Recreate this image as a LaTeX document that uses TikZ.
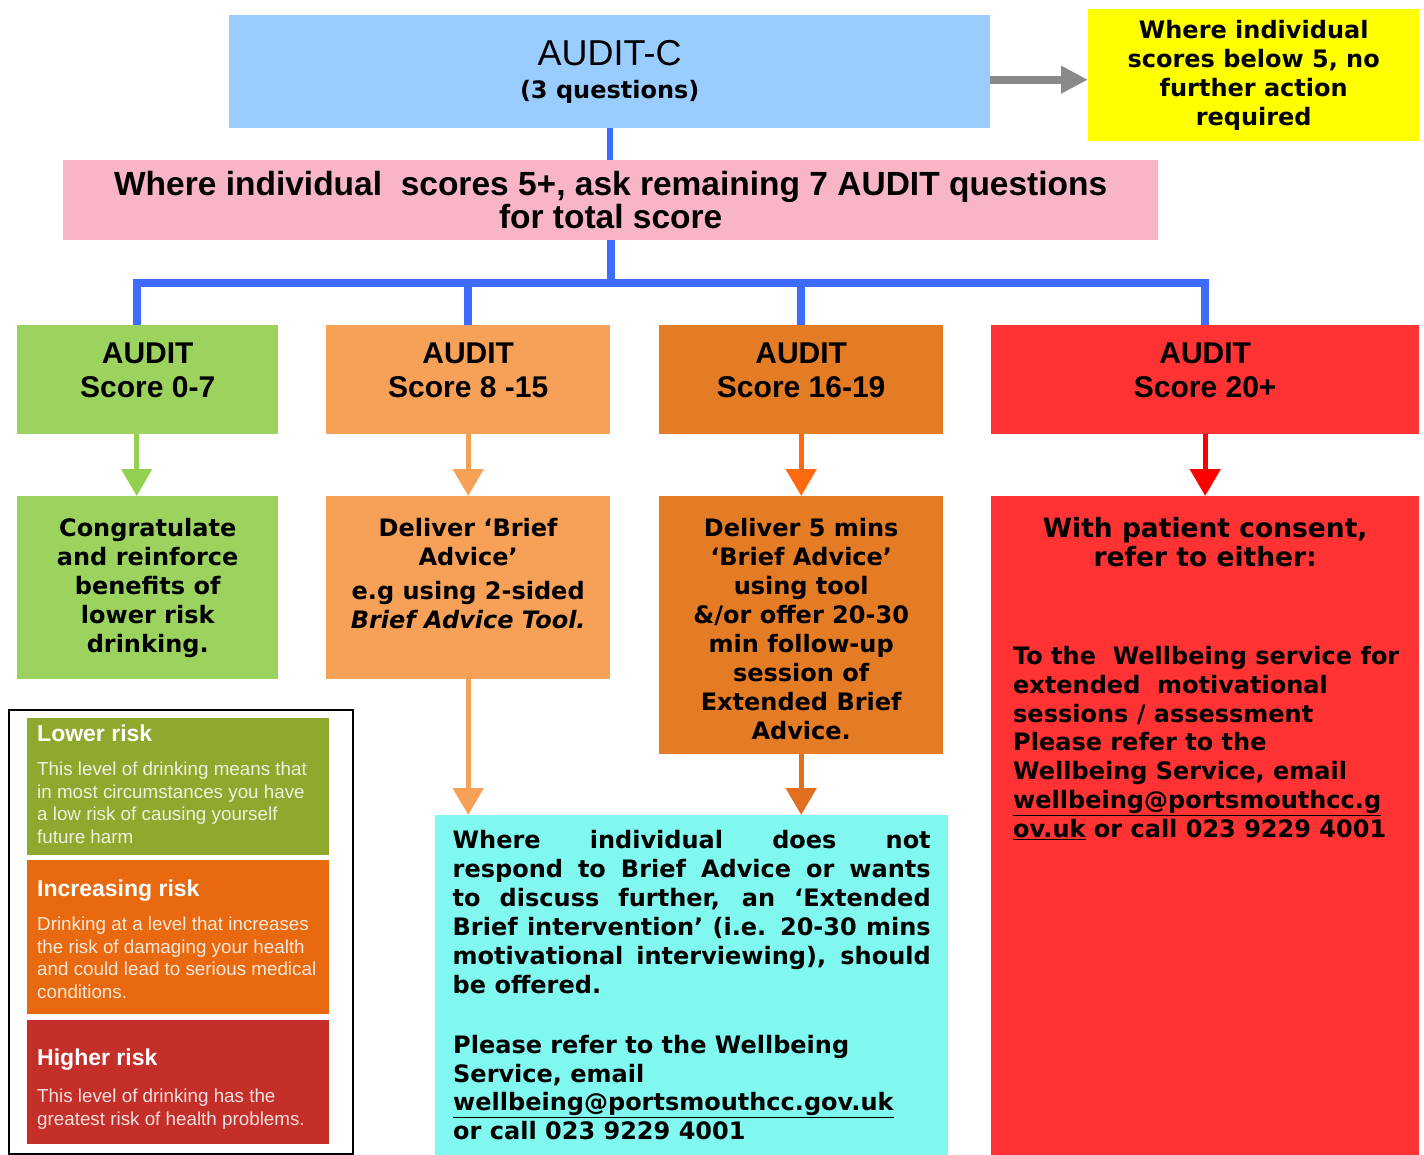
\documentclass[tikz,border=0pt]{standalone}
\usepackage{fontspec}
\setmainfont{Liberation Sans}
\newfontfamily\verd{DejaVu Sans}
\usetikzlibrary{arrows.meta, positioning}

\definecolor{auditblue}{HTML}{99CCFF}
\definecolor{nfyellow}{HTML}{FFFF00}
\definecolor{askpink}{HTML}{F7B5C6}
\definecolor{treeblue}{HTML}{3D6CFF}
\definecolor{lowgreen}{HTML}{9CD35F}
\definecolor{midorange}{HTML}{F6A058}
\definecolor{highorange}{HTML}{E47B25}
\definecolor{topred}{HTML}{FF3333}
\definecolor{ebicyan}{HTML}{80F8EF}
\definecolor{arrowgray}{HTML}{898989}
\definecolor{greenarrow}{HTML}{92D050}
\definecolor{brightorange}{HTML}{FF6A0F}
\definecolor{deeporange}{HTML}{E26E1F}
\definecolor{arrowred}{HTML}{FF0000}
\definecolor{keygreen}{HTML}{8FA82E}
\definecolor{keyorange}{HTML}{E8690F}
\definecolor{keyred}{HTML}{C42F29}

\newcommand{\vb}{\verd\bfseries\fontsize{24}{29}\selectfont}
\newcommand{\hd}{\bfseries\fontsize{30}{34}\selectfont}

\begin{document}
\begin{tikzpicture}[x=1pt, y=-1pt,
  box/.style={anchor=north west, inner sep=0pt},
  lbl/.style={inner sep=0pt, align=center, font=\vb},
  tree/.style={draw=treeblue, line width=8pt},
  down/.style={line width=5pt, -{Triangle[width=30pt,length=27pt]}},
  keytitle/.style={inner sep=0pt, text=white, font=\bfseries\fontsize{23}{23}\selectfont},
  keytext/.style={inner sep=0pt, align=left, text=white, text opacity=0.85,
    font=\fontsize{18.8}{22.5}\selectfont}]

  \useasboundingbox (0,0) rectangle (1424,1155);

  % top row
  \node[box, fill=auditblue, minimum width=761pt, minimum height=113pt, align=center,
    font=\fontsize{36}{33}\selectfont] (auditc) at (229,15) {AUDIT-C\\{\vb (3 questions)}};
  \node[box, fill=nfyellow, minimum width=331pt, minimum height=132pt, align=center,
    font=\verd\bfseries\fontsize{24}{29}\selectfont] (below5) at (1088,9)
    {Where individual\\scores below 5, no\\further action\\required};
  \node[box, fill=askpink, minimum width=1095pt, minimum height=80pt, align=center,
    font=\bfseries\fontsize{33.5}{31}\selectfont] (ask) at (63,160)
    {Where individual~ scores 5+, ask remaining 7 AUDIT questions\\for total score};

  \coordinate (g) at ([yshift=-8pt]auditc.east);
  \draw[arrowgray, line width=8pt, -{Triangle[width=26pt,length=27pt]}] (g) -- (g -| below5.west);
  \draw[treeblue, line width=6pt] (auditc.south) -- (auditc.south |- ask.north);

  % scores
  \node[box, fill=lowgreen, minimum width=261pt, minimum height=109pt] (s1) at (17,325) {};
  \node[box, fill=midorange, minimum width=284pt, minimum height=109pt] (s2) at (326,325) {};
  \node[box, fill=highorange, minimum width=284pt, minimum height=109pt] (s3) at (659,325) {};
  \node[box, fill=topred, minimum width=428pt, minimum height=109pt] (s4) at (991,325) {};
  \node[lbl, font=\hd, below=18pt of s1.north] (s1t) {AUDIT\\Score 0-7};
  \node[lbl, font=\hd, below=18pt of s2.north] (s2t) {AUDIT\\Score 8 -15};
  \node[lbl, font=\hd, below=18pt of s3.north] (s3t) {AUDIT\\Score 16-19};
  \node[lbl, font=\hd, below=18pt of s4.north] (s4t) {AUDIT\\Score 20+};

  \coordinate (bar) at (611,283);
  \draw[tree] (ask.south) -- (ask.south |- bar);
  \draw[tree] ([xshift=-11pt]s1.north) |- (bar) -| (s4.north);
  \draw[tree] (s2.north) -- (s2.north |- bar);
  \draw[tree] (s3.north) -- (s3.north |- bar);

  % advice
  \node[box, fill=lowgreen, minimum width=261pt, minimum height=183pt] (a1) at (17,496) {};
  \node[box, fill=midorange, minimum width=284pt, minimum height=183pt] (a2) at (326,496) {};
  \node[box, fill=highorange, minimum width=284pt, minimum height=258pt] (a3) at (659,496) {};
  \node[box, fill=topred, minimum width=428pt, minimum height=659pt] (a4) at (991,496) {};
  \node[box, fill=ebicyan, minimum width=513pt, minimum height=340pt] (ebi) at (435,815) {};

  \node[lbl, below=22pt of a1.north] (a1t)
    {Congratulate\\and reinforce\\benefits of\\lower risk\\drinking.};
  \node[lbl, below=22pt of a2.north] (a2t)
    {Deliver ‘Brief\\Advice’\\[5pt]e.g using 2-sided\\\textit{Brief Advice Tool.}};
  \node[lbl, below=22pt of a3.north] (a3t)
    {Deliver 5 mins\\‘Brief Advice’\\using tool\\\&/or offer 20-30\\min follow-up\\session of\\Extended Brief\\Advice.};
  \node[lbl, font=\verd\bfseries\fontsize{26.5}{29}\selectfont, below=21pt of a4.north] (a4t)
    {With patient consent,\\refer to either:};
  \node[lbl, align=left, font=\verd\bfseries\fontsize{24}{28.8}\selectfont,
    below right=150pt and 22pt of a4.north west] (a4b)
    {To the~ Wellbeing service for\\extended~ motivational\\sessions / assessment\\Please refer to the\\Wellbeing Service, email\\\underline{wellbeing@portsmouthcc.g}\\\underline{ov.uk} or call 023 9229 4001};
  \node[lbl, align=justify, text width=478pt, below=15pt of ebi.north] (ebit)
    {Where individual does not\linebreak respond to Brief Advice or wants\linebreak
     to discuss further, an ‘Extended\linebreak Brief intervention’ (i.e. 20-30 mins\linebreak
     motivational interviewing), should\linebreak be offered.};
  \node[lbl, align=left, font=\verd\bfseries\fontsize{24}{28.7}\selectfont,
    below right=220pt and 18pt of ebi.north west] (ebib)
    {Please refer to the Wellbeing\\Service, email\\\underline{wellbeing@portsmouthcc.gov.uk}\\or call 023 9229 4001};

  \draw[down, color=greenarrow] ([xshift=-11pt]s1.south) -- ([xshift=-11pt]a1.north);
  \draw[down, color=midorange] (s2) -- (a2);
  \draw[down, color=brightorange] (s3) -- (a3);
  \draw[down, color=arrowred] (s4) -- (a4);
  \draw[down, color=midorange] (a2.south) -- (a2.south |- ebi.north);
  \draw[down, color=deeporange] (a3.south) -- (a3.south |- ebi.north);

  % key
  \node[box, draw=black, line width=2pt, minimum width=344pt, minimum height=444pt] (key) at (8,709) {};
  \node[box, fill=keygreen, minimum width=302pt, minimum height=137pt] (lower) at (27,718) {};
  \node[box, fill=keyorange, minimum width=302pt, minimum height=154pt] (incr) at (27,860) {};
  \node[box, fill=keyred, minimum width=302pt, minimum height=124pt] (higher) at (27,1020) {};
  \node[keytitle, below right=7pt and 10pt of lower.north west] (lowert) {Lower risk};
  \node[keytext, below right=44pt and 10pt of lower.north west] (lowerb)
    {This level of drinking means that\\in most circumstances you have\\a low risk of causing yourself\\future harm};
  \node[keytitle, below right=20pt and 10pt of incr.north west] (incrt) {Increasing risk};
  \node[keytext, below right=57pt and 10pt of incr.north west] (incrb)
    {Drinking at a level that increases\\the risk of damaging your health\\and could lead to serious medical\\conditions.};
  \node[keytitle, below right=29pt and 10pt of higher.north west] (highert) {Higher risk};
  \node[keytext, below right=69pt and 10pt of higher.north west] (higherb)
    {This level of drinking has the\\greatest risk of health problems.};
\end{tikzpicture}
\end{document}
